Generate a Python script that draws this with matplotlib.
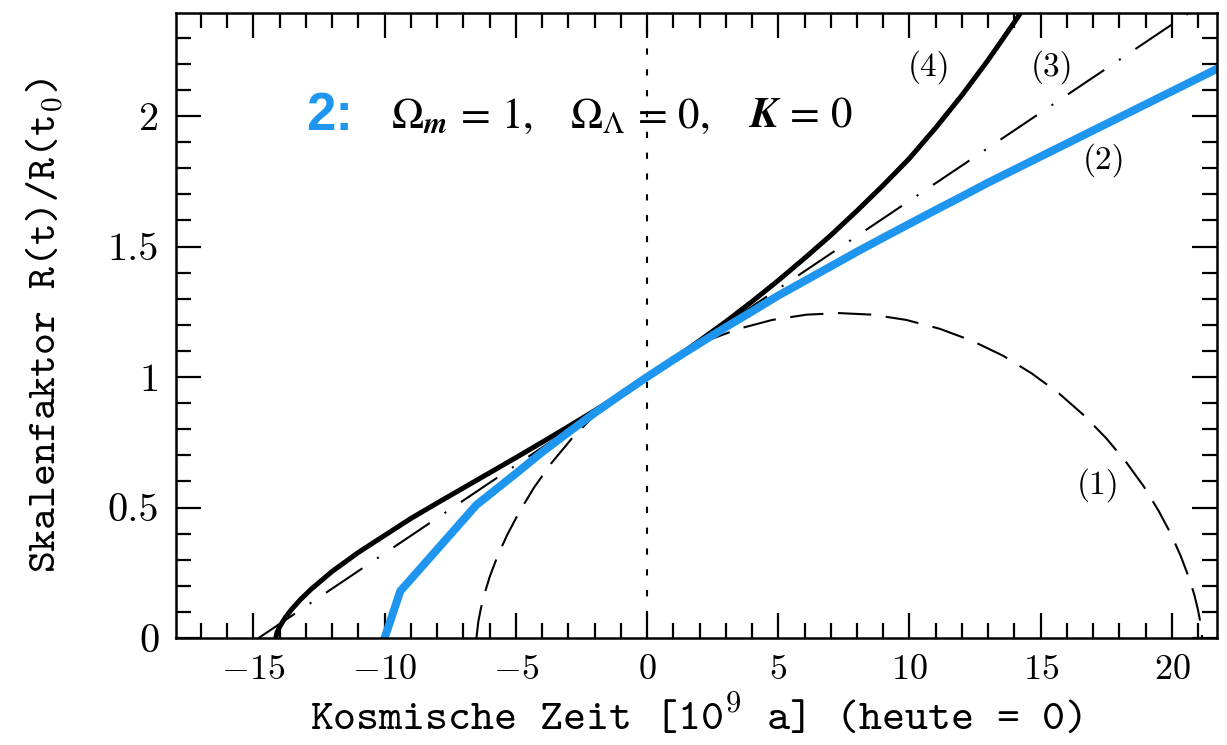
import numpy as np
import matplotlib
matplotlib.use('Agg')
import matplotlib.pyplot as plt
from matplotlib.ticker import MultipleLocator, FuncFormatter

# Kosmische Zeit [10^9 a] und Skalenfaktor
# (1) geschlossenes Universum (gestrichelt)
t_closed = [-6.5, -6.43, -6.34, -6.2, -5.99, -5.7, -5.32, -4.85, -4.29, -3.63,
            -2.87, -2.01, -1.06, 0.0, 1.09, 2.27, 3.5, 4.78, 6.08, 7.32,
            8.57, 9.87, 11.15, 12.38, 13.56, 14.67, 15.7, 16.65, 17.51, 18.27,
            18.94, 19.5, 19.97, 20.34, 20.63, 20.85, 20.99, 21.08, 21.13, 21.15]
R_closed = [0.0, 0.062, 0.109, 0.167, 0.236, 0.313, 0.397, 0.486, 0.579, 0.672,
            0.764, 0.853, 0.93, 1.0, 1.075, 1.139, 1.185, 1.219, 1.239, 1.245,
            1.239, 1.219, 1.185, 1.139, 1.082, 1.013, 0.937, 0.853, 0.764, 0.672,
            0.579, 0.486, 0.397, 0.313, 0.236, 0.167, 0.109, 0.062, 0.028, 0.0]

# (2) Einstein-de Sitter (blau)
t_eds = [-10.0, -9.4, -6.5, -5.0, -4.0, -3.0, -2.0, -1.0, 0.0, 1.0, 2.0, 3.0,
         4.0, 5.0, 6.0, 7.0, 8.0, 9.0, 10.0, 11.0, 12.0, 13.0, 21.7]
R_eds = [0.0, 0.18, 0.51, 0.63, 0.712, 0.788, 0.862, 0.932, 1.0, 1.066, 1.129, 1.191,
         1.251, 1.312, 1.368, 1.424, 1.48, 1.534, 1.587, 1.64, 1.692, 1.745, 2.18]

# (3) leeres Universum (strich-punkt)
t_empty = [-14.8, 0.0, 21.72]
R_empty = [0.0, 1.0, 2.467]

# (4) mit kosmologischer Konstante (dick, schwarz)
t_lam = [-14.15, -14.1, -14.0, -13.8, -13.55, -13.2, -12.8, -12.0, -11.0, -10.0,
         -9.0, -8.0, -7.0, -6.0, -5.0, -4.0, -3.0, -2.0, -1.0, 0.0,
         1.0, 2.0, 3.0, 4.0, 5.0, 6.0, 7.0, 8.0, 9.0, 10.0,
         11.0, 12.0, 13.0, 14.0, 15.0]
R_lam = [0.0, 0.021, 0.043, 0.076, 0.109, 0.148, 0.187, 0.255, 0.328, 0.393,
         0.458, 0.517, 0.575, 0.633, 0.691, 0.75, 0.81, 0.871, 0.934, 1.0,
         1.068, 1.139, 1.212, 1.289, 1.37, 1.455, 1.543, 1.637, 1.735, 1.838,
         1.955, 2.08, 2.215, 2.36, 2.51]

curve_labels = ['(1)', '(2)', '(3)', '(4)']
label_pos = [(17.17, 0.586), (17.4, 1.831), (15.45, 2.187), (10.73, 2.187)]

params = [r'$\Omega_{\mathbfit{m}}\,=\,1,$', r'$\Omega_\Lambda\,=\,0,$', r'$\mathbfit{K}\,=\,0$']
params_x = [-9.77, -2.94, 3.9]

plt.rcParams['font.family'] = 'cmr10'
plt.rcParams['mathtext.fontset'] = 'cm'
plt.rcParams['axes.formatter.use_mathtext'] = True

blue = '#1e96f0'

fig = plt.figure(figsize=(12.27, 7.45), dpi=100)
ax = fig.add_axes([0.1434, 0.1436, 0.8485, 0.839])

ax.axvline(0, color='k', lw=1.5, dashes=(3, 7))
ax.plot(t_closed, R_closed, color='k', lw=1.5, dashes=(16, 7))
ax.plot(t_empty, R_empty, color='k', lw=1.5, dashes=(21, 8.5, 1, 8.5))
ax.plot(t_lam, R_lam, color='k', lw=3.6, solid_capstyle='butt')
ax.plot(t_eds, R_eds, color=blue, lw=5.8)

for lab, (x, y) in zip(curve_labels, label_pos):
    ax.text(x, y, lab, fontsize=24, ha='center', va='center', family='cmr10')

ax.text(-12.98, 2.0, '2:', color=blue, fontsize=38, fontweight='bold',
        family='Liberation Sans', ha='left', va='center')
for s, x in zip(params, params_x):
    ax.text(x, 2.0, s, fontsize=31, ha='left', va='center', math_fontfamily='stix')

ax.set_xlim(-17.95, 21.72)
ax.set_ylim(0, 2.395)
ax.xaxis.set_major_locator(MultipleLocator(5))
ax.xaxis.set_minor_locator(MultipleLocator(1))
ax.yaxis.set_major_locator(MultipleLocator(0.5))
ax.yaxis.set_minor_locator(MultipleLocator(0.1))
ax.yaxis.set_major_formatter(FuncFormatter(lambda v, p: '%g' % v))
ax.xaxis.set_major_formatter(FuncFormatter(lambda v, p: '$%g$' % v))
ax.tick_params(which='both', direction='in', top=True, right=True, width=1.6)
ax.tick_params(which='major', length=18)
ax.tick_params(which='minor', length=11)
ax.tick_params(axis='x', labelsize=26, pad=12)
ax.tick_params(axis='y', labelsize=29, pad=12)
for s in ax.spines.values():
    s.set_linewidth(1.8)

ax.set_xlabel('Kosmische Zeit [10$^{\\mathtt{9}}$ a] (heute = 0)',
              family='cmtt10', fontsize=31.5, labelpad=5)
ax.set_ylabel('Skalenfaktor R(t)/R(t$_{\\mathtt{0}}$)',
              family='cmtt10', fontsize=30, labelpad=30)

fig.savefig('out.png', dpi=100)
